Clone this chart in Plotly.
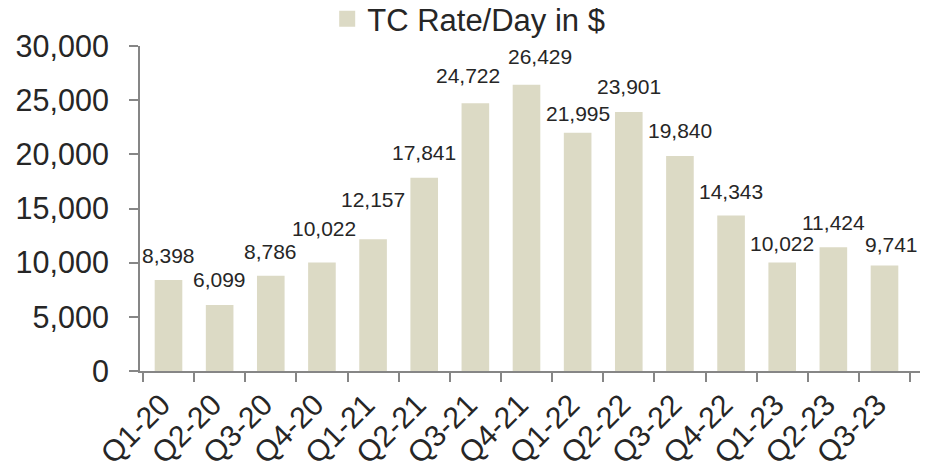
import plotly.graph_objects as go

quarters = ["Q1-20", "Q2-20", "Q3-20", "Q4-20", "Q1-21", "Q2-21", "Q3-21", "Q4-21",
            "Q1-22", "Q2-22", "Q3-22", "Q4-22", "Q1-23", "Q2-23", "Q3-23"]
tc_rate = [8398, 6099, 8786, 10022, 12157, 17841, 24722, 26429,
           21995, 23901, 19840, 14343, 10022, 11424, 9741]
series_name = "TC Rate/Day in $"

# label nudges (pixels) as in the original chart
label_lift = [16, 17, 16, 25, 31, 17, 19, 20, 11, 17, 17, 16, 10, 16, 12]
label_nudge_x = [0, 0, 0, 2, 0, 0, -7, 13, 0, 0, 0, 0, 0, 0, 7]

BAR = "#dcdac5"
TXT = "#262626"
AX = "#868686"
FONT = "Liberation Sans, Arial, sans-serif"

fig = go.Figure()
fig.add_trace(go.Bar(x=quarters, y=tc_rate, marker=dict(color=BAR, line=dict(width=0)),
                     showlegend=False, hoverinfo="x+y"))
# legend proxy with a larger square swatch
fig.add_trace(go.Scatter(x=[None], y=[None], mode="markers", name=series_name,
                         marker=dict(symbol="square", size=16, color=BAR), showlegend=True))

for q, v, dy, dx in zip(quarters, tc_rate, label_lift, label_nudge_x):
    fig.add_annotation(x=q, y=v, text=f"{v:,}", showarrow=False, xref="x", yref="y",
                       yanchor="bottom", xanchor="center", yshift=dy - 5, xshift=dx,
                       font=dict(size=21, color=TXT, family=FONT))

fig.update_layout(
    width=932, height=473,
    margin=dict(l=140, r=12, t=46, b=102, autoexpand=False),
    paper_bgcolor="white", plot_bgcolor="white",
    font=dict(family=FONT, color=TXT, size=30),
    bargap=0.46,
    showlegend=True,
    legend=dict(orientation="h", x=0.24, xanchor="left", y=1.0, yref="paper",
                yanchor="bottom", font=dict(size=31, color=TXT), bgcolor="rgba(0,0,0,0)",
                itemclick=False),
    xaxis=dict(type="category", showline=True, linecolor=AX, linewidth=2,
               ticks="outside", tickson="boundaries", ticklen=9, tickwidth=2, tickcolor=AX,
               tickangle=-45, tickfont=dict(size=30, color=TXT), showgrid=False, zeroline=False,
               ticklabelshift=-7, ticklabelstandoff=2),
    yaxis=dict(range=[0, 30000], dtick=5000, tickformat=",d", showline=True, linecolor=AX,
               linewidth=2, ticks="outside", ticklen=9, tickwidth=2, tickcolor=AX,
               tickfont=dict(size=30.5, color=TXT), showgrid=False, zeroline=False,
               ticklabelstandoff=14),
)

fig.write_html("out.html", config={"displayModeBar": False},
               post_script="document.body.style.margin='0';document.body.style.padding='0';")
